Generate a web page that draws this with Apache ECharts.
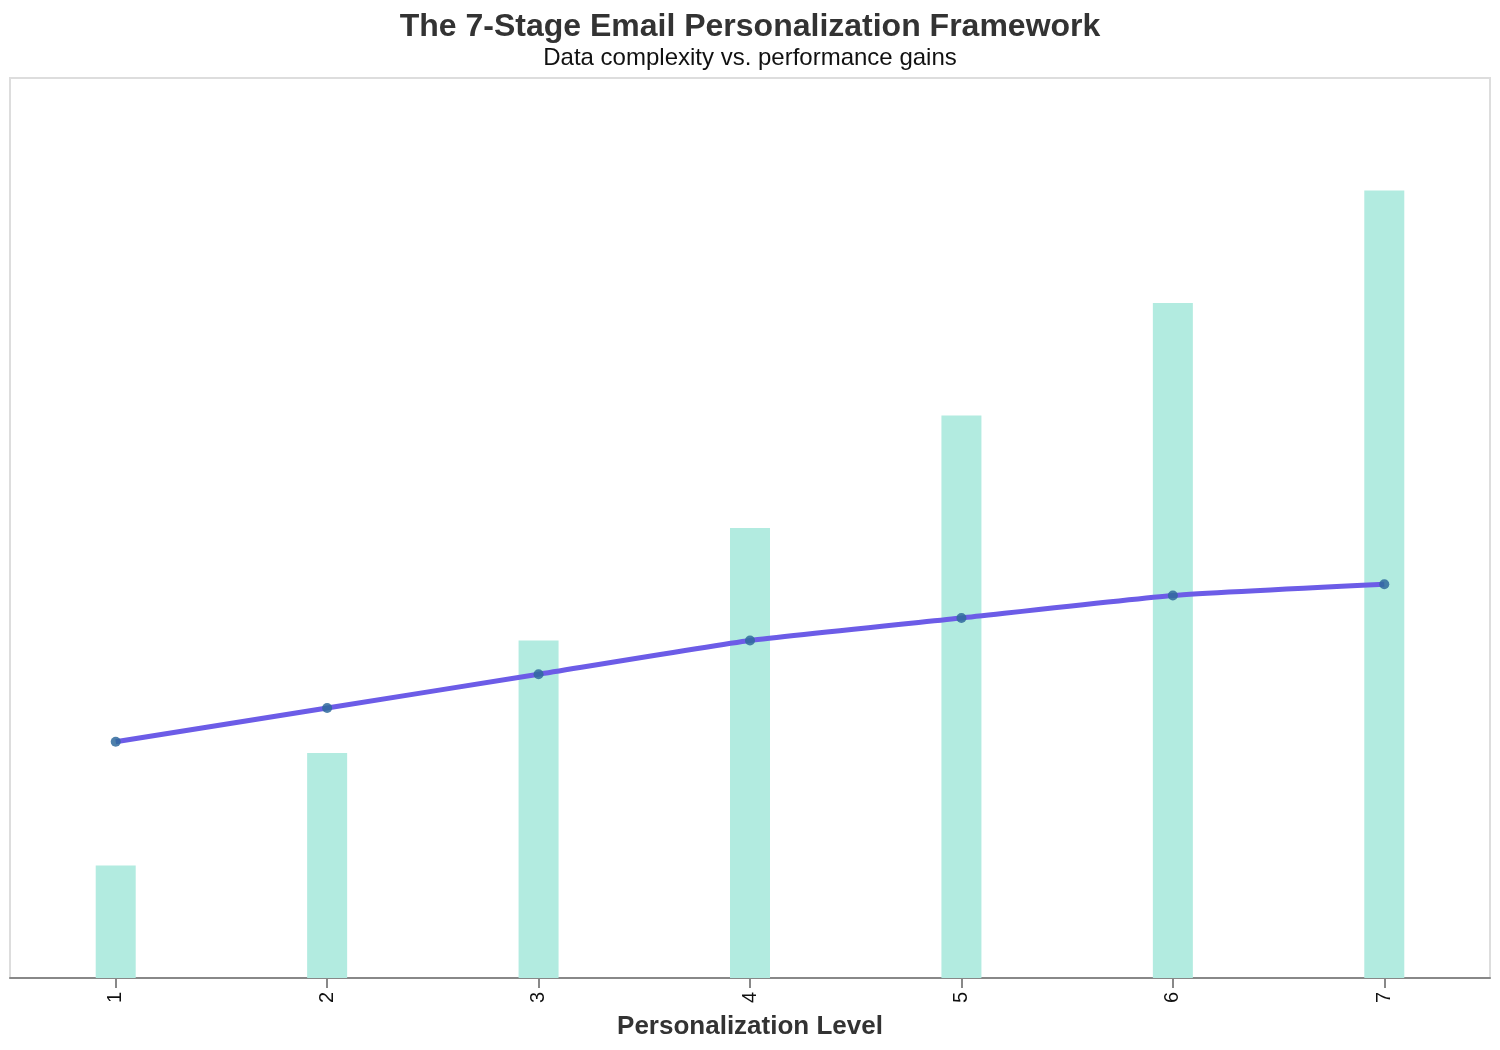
<!DOCTYPE html>
<html lang="en">
<head>
    <meta charset="UTF-8">
    <title>Email Personalization Framework</title>
    <script src="https://cdn.jsdelivr.net/npm/echarts@6/dist/echarts.min.js"></script>
    <style>
        html, body { margin: 0; padding: 0; background: #fff; }
        #main { width: 1500px; height: 1050px; }
    </style>
</head>
<body>
<div id="main"></div>
<script type="text/javascript">
    // personalization levels
    var levels = ['1', '2', '3', '4', '5', '6', '7'];
    // data complexity (bars)
    var complexity = [1, 2, 3, 4, 5, 6, 7];
    // performance gains (line)
    var performance = [2.1, 2.4, 2.7, 3.0, 3.2, 3.4, 3.5];

    var font = 'Liberation Sans, Arial, sans-serif';
    var myChart = echarts.init(document.getElementById('main'));

    var option = {
        backgroundColor: '#fff',
        animation: false,
        title: {
            text: 'The 7-Stage Email Personalization Framework',
            subtext: 'Data complexity vs. performance gains',
            left: 'center',
            top: 6,
            itemGap: 3,
            textStyle: { fontFamily: font, fontSize: 32, fontWeight: 'bold', color: '#333' },
            subtextStyle: { fontFamily: font, fontSize: 24, color: '#111' }
        },
        grid: {
            left: 10,
            right: 10,
            top: 78,
            bottom: 72,
            outerBoundsMode: 'none',
            containLabel: false,
            show: true,
            borderColor: '#dddddd',
            borderWidth: 2,
            backgroundColor: '#fff'
        },
        xAxis: {
            type: 'category',
            data: levels,
            name: 'Personalization Level',
            nameLocation: 'middle',
            nameGap: 36,
            nameTextStyle: { fontFamily: font, fontSize: 26, fontWeight: 'bold', color: '#333' },
            axisLine: { lineStyle: { color: '#888', width: 2 } },
            axisTick: { show: true, alignWithLabel: true, length: 10, lineStyle: { color: '#888', width: 2 } },
            axisLabel: { rotate: 90, fontFamily: font, fontSize: 20, color: '#111', margin: 14 }
        },
        yAxis: {
            type: 'value',
            min: 0,
            max: 8,
            show: false,
            splitLine: { show: false }
        },
        series: [
            {
                name: 'Data Complexity',
                type: 'bar',
                data: complexity,
                barWidth: 40,
                itemStyle: { color: '#b2ebe0' }
            },
            {
                name: 'Performance Gain',
                type: 'line',
                data: performance,
                smooth: 0.15,
                symbol: 'circle',
                symbolSize: 10,
                lineStyle: { color: '#6c5ce7', width: 5 },
                itemStyle: { color: '#2f6a9c', opacity: 0.85 },
                z: 3
            }
        ]
    };

    myChart.setOption(option);
</script>
</body>
</html>
